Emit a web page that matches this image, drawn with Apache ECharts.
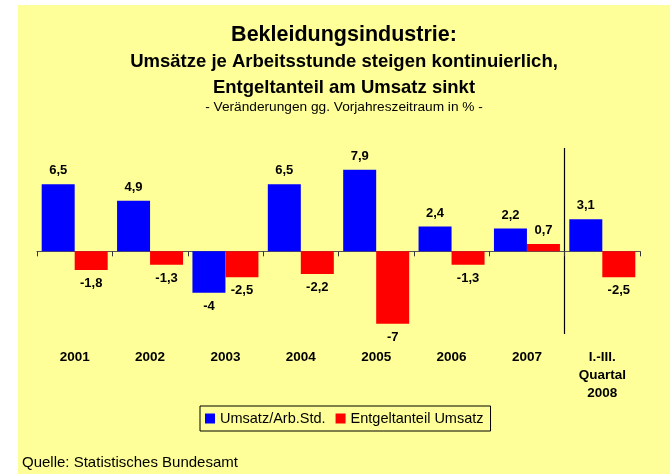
<!DOCTYPE html>
<html>
<head>
<meta charset="utf-8">
<script src="https://cdn.jsdelivr.net/npm/echarts@6/dist/echarts.min.js"></script>
<style>
  html, body { margin: 0; padding: 0; background: #fff; }
  #chart { position: absolute; left: 18px; top: 5px; width: 652px; height: 469px; }
</style>
</head>
<body>
<div id="chart"></div>
<script>
    // Daten
    var categories = ['2001', '2002', '2003', '2004', '2005', '2006', '2007', 'I.-III.\nQuartal\n2008'];
    var umsatzJeStd = [6.5, 4.9, -4, 6.5, 7.9, 2.4, 2.2, 3.1];
    var entgeltAnteil = [-1.8, -1.3, -2.5, -2.2, -7, -1.3, 0.7, -2.5];
    var seriesNames = ['Umsatz/Arb.Std.', 'Entgeltanteil Umsatz'];

    var FONT = "'Liberation Sans', Arial, sans-serif";

    function fmt(v) {
        return String(v).replace('.', ',');
    }

    // Beschriftung oben bzw. unten je nach Vorzeichen
    function toItems(arr) {
        var out = [];
        for (var i = 0; i < arr.length; i++) {
            out.push({ value: arr[i], label: { position: arr[i] < 0 ? 'bottom' : 'top' } });
        }
        return out;
    }

    var barLabel = {
        show: true,
        distance: 7,
        color: '#000',
        fontFamily: FONT,
        fontWeight: 'bold',
        fontSize: 13,
        formatter: function (p) { return fmt(p.value); }
    };

    var option = {
        backgroundColor: '#FFFF99',
        animation: false,
        title: [
            {
                text: 'Bekleidungsindustrie:',
                left: 'center', top: 19, padding: 0,
                textStyle: { fontFamily: FONT, fontWeight: 'bold', fontSize: 21.5, lineHeight: 22, color: '#000' }
            },
            {
                text: 'Umsätze je Arbeitsstunde steigen kontinuierlich,',
                left: 'center', top: 47, padding: 0,
                textStyle: { fontFamily: FONT, fontWeight: 'bold', fontSize: 18.5, lineHeight: 19, color: '#000' }
            },
            {
                text: 'Entgeltanteil am Umsatz sinkt',
                left: 'center', top: 73, padding: 0,
                textStyle: { fontFamily: FONT, fontWeight: 'bold', fontSize: 18.5, lineHeight: 19, color: '#000' }
            },
            {
                text: '- Veränderungen gg. Vorjahreszeitraum in % -',
                left: 'center', top: 95, padding: 0,
                textStyle: { fontFamily: FONT, fontWeight: 'normal', fontSize: 13.7, lineHeight: 14, color: '#000' }
            },
            {
                text: 'Quelle: Statistisches Bundesamt',
                left: 4, top: 450, padding: 0,
                textStyle: { fontFamily: FONT, fontWeight: 'normal', fontSize: 15, lineHeight: 15, color: '#000' }
            }
        ],
        legend: {
            left: 182,
            top: 401,
            padding: [5, 7, 5, 5],
            itemGap: 10,
            itemWidth: 10,
            itemHeight: 10,
            borderColor: '#000',
            borderWidth: 1,
            icon: 'rect',
            textStyle: { fontFamily: FONT, fontSize: 14.5, color: '#000' },
            data: seriesNames
        },
        grid: {
            left: 19,
            width: 603,
            top: 143,
            height: 186,
            outerBoundsMode: 'none'
        },
        xAxis: [
            {
                type: 'category',
                data: categories,
                axisLine: { onZero: true, lineStyle: { color: '#555', width: 1 } },
                axisTick: { show: true, interval: 0, length: 5, lineStyle: { color: '#333' } },
                axisLabel: {
                    interval: 0,
                    margin: 14,
                    color: '#000',
                    fontFamily: FONT,
                    fontWeight: 'bold',
                    fontSize: 13.5,
                    lineHeight: 18
                },
                splitLine: { show: false }
            },
            {
                // nur für die Trennlinie vor dem Quartalswert
                type: 'value',
                position: 'top',
                min: 0,
                max: 8,
                interval: 7,
                axisLine: { show: false },
                axisTick: { show: false },
                axisLabel: { show: false },
                splitLine: {
                    show: true,
                    showMinLine: false,
                    showMaxLine: false,
                    lineStyle: { color: '#000', width: 1.2 }
                }
            }
        ],
        yAxis: {
            type: 'value',
            min: -8,
            max: 10,
            show: false
        },
        series: [
            {
                name: seriesNames[0],
                type: 'bar',
                barWidth: 33,
                barGap: '0%',
                itemStyle: { color: '#0000FF' },
                label: barLabel,
                data: toItems(umsatzJeStd)
            },
            {
                name: seriesNames[1],
                type: 'bar',
                barWidth: 33,
                barGap: '0%',
                itemStyle: { color: '#FF0000' },
                label: barLabel,
                data: toItems(entgeltAnteil)
            }
        ]
    };

    var chart = echarts.init(document.getElementById('chart'));
    chart.setOption(option);
</script>
</body>
</html>
